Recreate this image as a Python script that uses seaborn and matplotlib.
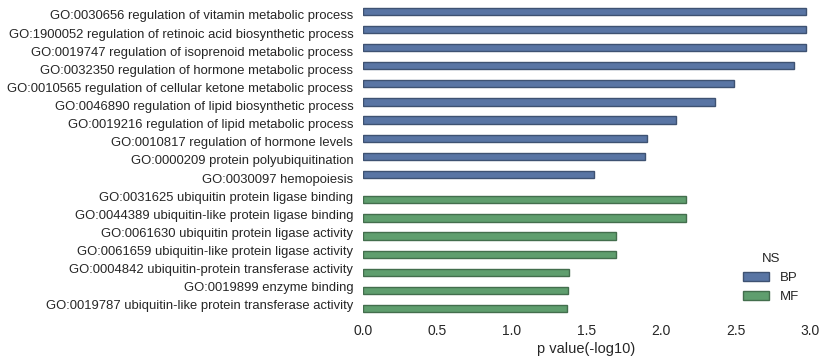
import numpy as np
import matplotlib
matplotlib.use("Agg")
import matplotlib.pyplot as plt
import matplotlib.colors as mcolors
import seaborn as sns
import pandas as pd

# GO terms, ordered as in the chart (top to bottom)
terms = [
    "GO:0030656 regulation of vitamin metabolic process",
    "GO:1900052 regulation of retinoic acid biosynthetic process",
    "GO:0019747 regulation of isoprenoid metabolic process",
    "GO:0032350 regulation of hormone metabolic process",
    "GO:0010565 regulation of cellular ketone metabolic process",
    "GO:0046890 regulation of lipid biosynthetic process",
    "GO:0019216 regulation of lipid metabolic process",
    "GO:0010817 regulation of hormone levels",
    "GO:0000209 protein polyubiquitination",
    "GO:0030097 hemopoiesis",
    "GO:0031625 ubiquitin protein ligase binding",
    "GO:0044389 ubiquitin-like protein ligase binding",
    "GO:0061630 ubiquitin protein ligase activity",
    "GO:0061659 ubiquitin-like protein ligase activity",
    "GO:0004842 ubiquitin-protein transferase activity",
    "GO:0019899 enzyme binding",
    "GO:0019787 ubiquitin-like protein transferase activity",
]
ns = ["BP"] * 10 + ["MF"] * 7
pvals = [2.97, 2.97, 2.97, 2.89, 2.49, 2.36, 2.10, 1.905, 1.89, 1.55,
         2.17, 2.17, 1.695, 1.695, 1.38, 1.375, 1.37]

df = pd.DataFrame({"term": terms, "NS": ns, "p value(-log10)": pvals})

sns.set_theme(style="white")
plt.rcParams["font.family"] = ["Liberation Sans", "DejaVu Sans"]
plt.rcParams["text.color"] = ".15"
plt.rcParams["axes.labelcolor"] = ".15"
plt.rcParams["xtick.color"] = ".15"
plt.rcParams["ytick.color"] = ".15"

fig = plt.figure(figsize=(8.25, 3.62), dpi=100)
ax = fig.add_axes([0.44, 0.1326, 0.542, 0.851])

sns.barplot(data=df, x="p value(-log10)", y="term", hue="NS", dodge=True,
            palette=["#4C72B0", "#55A868"], ax=ax, linewidth=1)

# darker outline like the old seaborn bars
for p in ax.patches:
    fc = np.array(mcolors.to_rgb(p.get_facecolor()))
    p.set_edgecolor(fc * 0.7)

ax.set_xlim(0, 3.0)
ax.set_ylabel("")
ax.set_xlabel("p value(-log10)", fontsize=10.5, labelpad=3)
ax.tick_params(axis="x", length=0, labelsize=10, pad=7)
ax.tick_params(axis="y", length=0, labelsize=9.4, pad=7)
sns.despine(ax=ax, left=True, bottom=True)

leg = ax.legend(title="NS", loc="lower right", frameon=False, fontsize=9.5,
                title_fontsize=9.5, handlelength=2.0, borderaxespad=0.45)
for h in leg.legend_handles:
    fc = np.array(mcolors.to_rgb(h.get_facecolor()))
    h.set_edgecolor(fc * 0.7)

fig.savefig("out.png", dpi=100)
